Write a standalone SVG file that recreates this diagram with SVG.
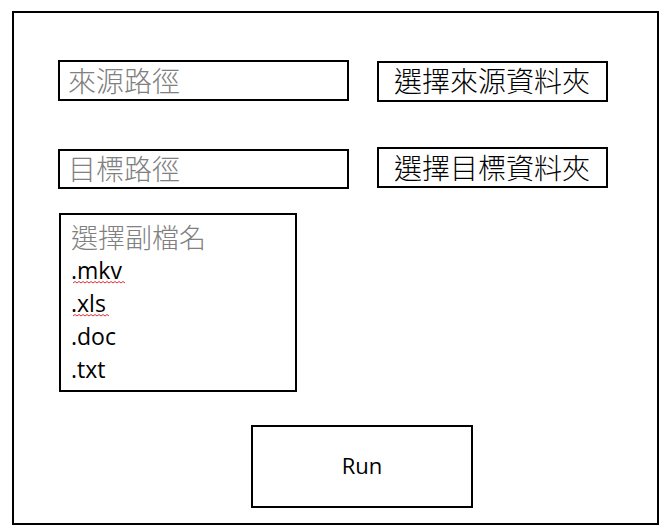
<svg xmlns="http://www.w3.org/2000/svg" width="668" height="531" viewBox="0 0 668 531">
<style>
.box{fill:#fff;stroke:#000;stroke-width:2}
.ph{font-family:"Noto Sans CJK TC","Noto Sans CJK SC",sans-serif;font-size:28px;font-weight:300;fill:#808080}
.cj{font-family:"Noto Sans CJK TC","Noto Sans CJK SC",sans-serif;font-size:28px;font-weight:300;fill:#000}
.en{font-family:"Open Sans","Liberation Sans",sans-serif;font-size:23px;fill:#000}
.sq{fill:none;stroke:#e03030;stroke-width:1}
</style>
<rect x="0" y="0" width="668" height="531" fill="#fff"/>
<g id="frame"><rect class="box" x="13" y="12" width="645" height="512"/></g>
<g id="source-path"><rect class="box" x="59" y="61" width="289" height="39"/><text class="ph" x="68" y="92">來源路徑</text></g>
<g id="source-button"><rect class="box" x="378" y="62" width="229" height="39"/><text class="cj" x="394" y="92">選擇來源資料夾</text></g>
<g id="target-path"><rect class="box" x="59" y="150" width="289" height="38"/><text class="ph" x="68" y="180">目標路徑</text></g>
<g id="target-button"><rect class="box" x="378" y="148" width="229" height="39"/><text class="cj" x="394" y="179">選擇目標資料夾</text></g>
<g id="extension-list"><rect class="box" x="60" y="214" width="236" height="177"/>
<text class="ph" x="71" y="248" style="font-size:27px">選擇副檔名</text>
<text class="en" x="71" y="279">.mkv</text>
<text class="en" x="71" y="312">.xls</text>
<text class="en" x="71" y="345">.doc</text>
<text class="en" x="71" y="378">.txt</text>
<path class="sq" d="M73 283 l2 -1.5 l2 1.5 l2 -1.5 l2 1.5 l2 -1.5 l2 1.5 l2 -1.5 l2 1.5 l2 -1.5 l2 1.5 l2 -1.5 l2 1.5 l2 -1.5 l2 1.5 l2 -1.5 l2 1.5 l2 -1.5 l2 1.5 l2 -1.5 l2 1.5 l2 -1.5 l2 1.5 l2 -1.5 l2 1.5 l2 -1.5 l2 1.5"/>
<path class="sq" d="M73 316 l2 -1.5 l2 1.5 l2 -1.5 l2 1.5 l2 -1.5 l2 1.5 l2 -1.5 l2 1.5 l2 -1.5 l2 1.5 l2 -1.5 l2 1.5 l2 -1.5 l2 1.5 l2 -1.5 l2 1.5 l2 -1.5 l2 1.5"/>
</g>
<g id="run-button"><rect class="box" x="252" y="426" width="220" height="81"/><text class="en" x="362" y="474" text-anchor="middle" style="font-size:22px">Run</text></g>
<g id="connectors"></g>
</svg>
